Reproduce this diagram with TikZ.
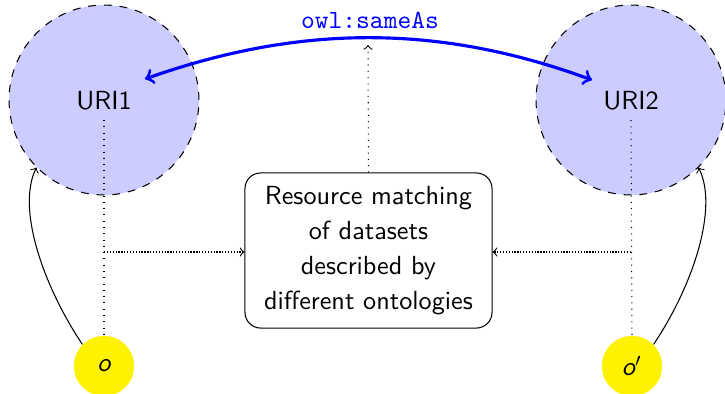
\documentclass[tikz,border=0pt]{standalone}
\usetikzlibrary{arrows}
\begin{document}
\begin{tikzpicture}[x=0.3817pt,y=-0.3817pt,
  uri/.style={circle,draw,dashed,fill=blue!20,minimum size=72.5pt,inner sep=0pt},
  urilabel/.style={font=\sffamily,inner sep=3.5pt},
  obj/.style={circle,fill=yellow,minimum size=23pt,inner sep=0pt,font=\sffamily\itshape},
  task/.style={draw,rounded corners=6pt,align=center,minimum width=94.3pt,minimum height=59.2pt,
    font=\sffamily\fontsize{10}{13.4}\selectfont},
  link/.style={dotted,-to},
  feed/.style={dash pattern=on 0.5pt off 0.6pt,-to},
  same/.style={blue,very thick,to-to}]
\useasboundingbox (0,0) rectangle (725,393);

% resources and their objects
\node[uri] (u1) at (104,100) {};
\node[uri] (u2) at (631,100) {};
\node[urilabel] (n1) at (104,101) {URI1};
\node[urilabel] (n2) at (631,101) {URI2};
\node[obj] (o1) at (104,366) {o};
\node[obj] (o2) at (632,366) {o$'$};

% matching task
\node[task] (m) at (368.5,250.5) {Resource matching\\of datasets\\described by\\different ontologies};

% identity link between the two URIs
\coordinate (s1) at (145,79);
\coordinate (s2) at (592,80);
\coordinate (top) at (368,45);
\draw[same] (s1) .. controls (300,24) and (440,24) .. (s2);
\node[blue,font=\ttfamily] (lbl) at (370,20) {owl:sameAs};
\draw[link] (m.north) -- (top);

% feeding the matching task
\coordinate (h1) at (104,252);
\coordinate (h2) at (631,252);
\draw[dotted] (n1.south) -- (o1.north);
\draw[dotted] (n2.south) -- (o2.north);
\draw[feed] (h1) -- (m.west |- h1);
\draw[feed] (h2) -- (m.east |- h2);

% objects pointing to their resources
\draw[-to] (o1.135) .. controls +(-40,-60) and +(-20,40) .. (u1.225);
\draw[-to] (o2.45) .. controls +(40,-60) and +(20,40) .. (u2.-45);
\end{tikzpicture}
\end{document}
